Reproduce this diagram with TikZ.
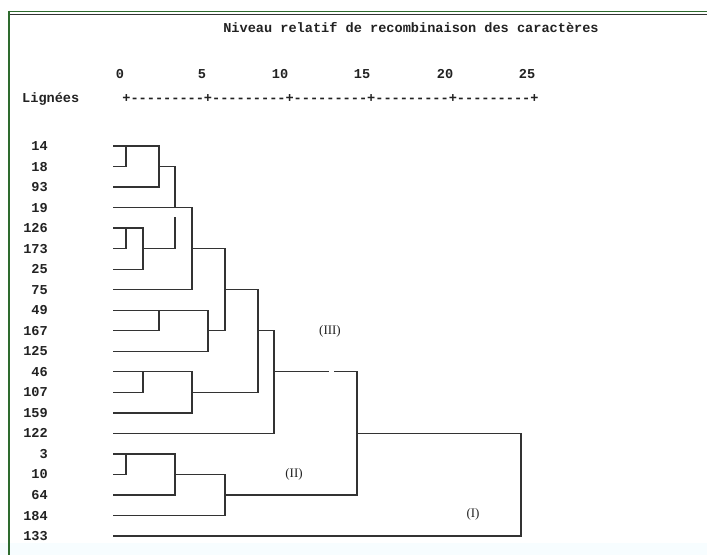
\documentclass[tikz,border=0pt]{standalone}
\usepackage{fontspec}
\setmonofont{Liberation Mono}
\newfontfamily\labserif{Liberation Serif}
\usetikzlibrary{calc}
\definecolor{framegreen}{HTML}{2E6B2E}
\definecolor{linegray}{HTML}{333333}
\definecolor{textgray}{HTML}{222222}
\begin{document}
\begin{tikzpicture}[x=1pt,y=-1pt,
  mono/.style={font=\ttfamily\bfseries\fontsize{13.6}{15}\selectfont, text=textgray, inner sep=0pt},
  leaflab/.style={mono, anchor=east},
  grp/.style={font=\labserif\fontsize{13}{15}\selectfont, text=textgray, inner sep=0pt},
  dend/.style={draw=linegray, line width=1.3pt, line cap=rect}]
\useasboundingbox (0,0) rectangle (707,555);
\fill[white] (0,0) rectangle (707,555);
\fill[cyan!3!white] (0,543) rectangle (707,555);
% frame
\draw[framegreen, line width=1.8pt] (8.5,11.5) -- (707,11.5);
\draw[linegray, line width=0.9pt] (10,14.8) -- (707,14.8);
\draw[framegreen, line width=2pt] (8.5,10.6) -- (8.5,555);
% header
\node[mono] (title) at (411,28) {Niveau relatif de recombinaison des caractères};
\foreach \v/\xx in {0/120,5/202,10/280,15/362,20/445,25/527}
  \node[mono] (n\v) at (\xx,74) {\v};
\node[mono, anchor=west] (lig) at (22,99) {Lignées};
\node[mono] (axis) at (330.5,99) {+---------+---------+---------+---------+---------+};
% leaves
\foreach \n [count=\i from 0] in {14,18,93,19,126,173,25,75,49,167,125,46,107,159,122,3,10,64,184,133} {
  \node[leaflab] (t\n) at (48,146+\i*20.53) {\n};
  \coordinate (l\n) at (114,146+\i*20.53);
}
% column positions
\coordinate (ca) at (126,0);
\coordinate (cb) at (143,0);
\coordinate (cc) at (159,0);
\coordinate (cd) at (175,0);
\coordinate (ce) at (192,0);
\coordinate (cf) at (208,0);
\coordinate (cg) at (225,0);
\coordinate (ch) at (258,0);
\coordinate (ci) at (274,0);
\coordinate (cj) at (357,0);
\coordinate (ck) at (521,0);
\coordinate (gap1) at (328,0);
\coordinate (gap2) at (335,0);
\coordinate (m1) at ($(l19)!0.5!(l126)$);
% dendrogram
\draw[dend] (l18) -| (ca|-l14);
\draw[dend] (l14) -| (cc|-l93) -- (l93);
\draw[dend] (cc|-l18) -| (cd|-l19);
\draw[dend] (l19) -| (ce|-l75) -- (l75);
\draw[dend] (l173) -| (ca|-l126);
\draw[dend] (l126) -| (cb|-l25) -- (l25);
\draw[dend] (cb|-l173) -| (cd|-m1);
\draw[dend] (ce|-l173) -| (cg|-l167);
\draw[dend] (l49) -| (cf|-l125) -- (l125);
\draw[dend] (l167) -| (cc|-l49);
\draw[dend] (cf|-l167) -- (cg|-l167);
\draw[dend] (cg|-l75) -| (ch|-l107);
\draw[dend] (l46) -| (ce|-l159) -- (l159);
\draw[dend] (l107) -| (cb|-l46);
\draw[dend] (ce|-l107) -- (ch|-l107);
\draw[dend] (ch|-l167) -| (ci|-l122) -- (l122);
\draw[dend] (ci|-l46) -- (gap1|-l46);
\draw[dend] (gap2|-l46) -| (cj|-l64);
\draw[dend] (l10) -| (ca|-l3);
\draw[dend] (l3) -| (cd|-l64) -- (l64);
\draw[dend] (cd|-l10) -| (cg|-l184) -- (l184);
\draw[dend] (cg|-l64) -- (cj|-l64);
\draw[dend] (cj|-l122) -| (ck|-l133) -- (l133);
% group labels
\node[grp] (g3) at (330,331) {(III)};
\node[grp] (g2) at (294,474) {(II)};
\node[grp] (g1) at (473,514) {(I)};
\end{tikzpicture}
\end{document}
